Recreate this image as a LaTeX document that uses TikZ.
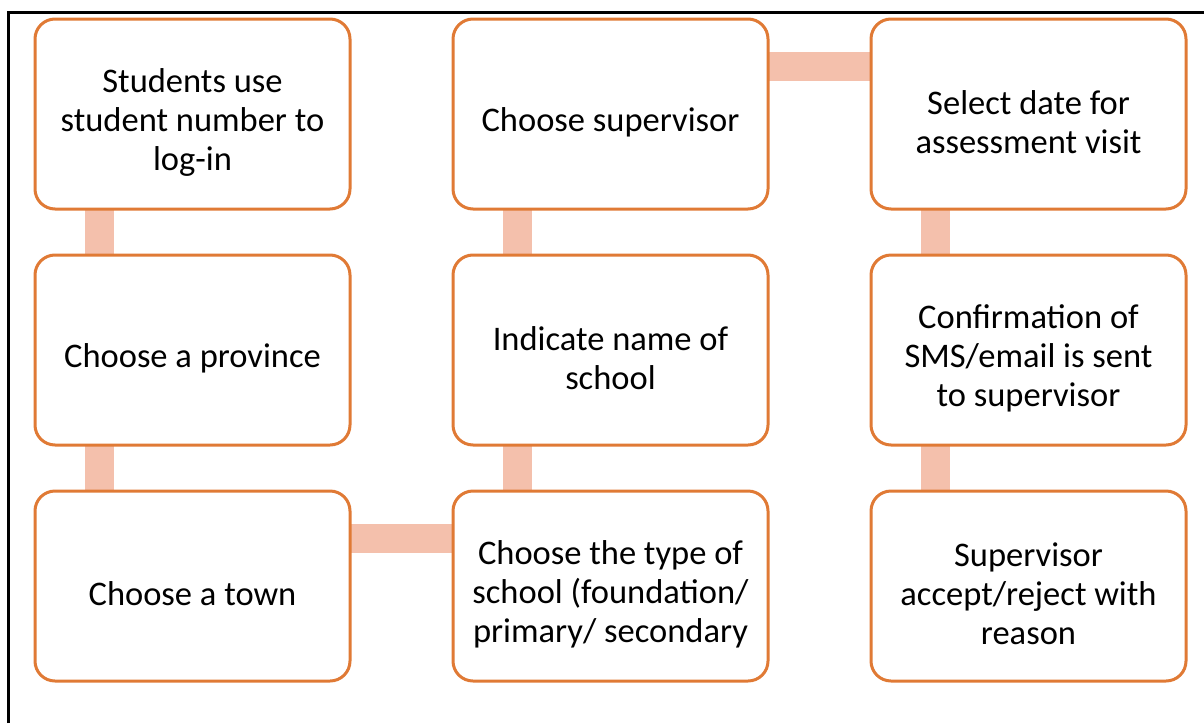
\documentclass[tikz,border=0pt]{standalone}
\usepackage{fontspec}
\setmainfont{Carlito}
\usetikzlibrary{positioning, backgrounds}
\definecolor{boxline}{HTML}{E07A35}
\definecolor{linkfill}{HTML}{F4C0AC}
\tikzset{
    steptext/.style={
        align=center,
        yshift=-8pt,
        font=\fontsize{34.5}{39}\selectfont
    },
    stepbox/.style={
        rectangle,
        rounded corners=20pt,
        draw=boxline,
        line width=3pt,
        fill=white,
        outer sep=0pt,
        minimum width=315pt,
        minimum height=190pt,
        label={[steptext]center:{#1}}
    },
    link/.style={draw=linkfill, line width=29pt},
    frame/.style={draw=black, line width=3pt},
}

\begin{document}
\begin{tikzpicture}[x=1pt, y=1pt, node distance=46pt and 103pt]

    \useasboundingbox (0,0) rectangle (1204,-723);

    % Frame
    \coordinate (fbl) at (8.5,-723);
    \coordinate (ftl) at (8.5,-12.5);
    \coordinate (ftr) at (1204,-12.5);
    \draw [frame] (fbl) -- (ftl) -- (ftr);

    % Nodes
    \node (b1) [stepbox={Students use\\student number to\\log-in}] at (192.5,-114) {};
    \node (b2) [stepbox={Choose a province}, below=of b1] {};
    \node (b3) [stepbox={Choose a town}, below=of b2] {};
    \node (b4) [stepbox={Choose the type of\\school (foundation/\\primary/ secondary}, right=of b3] {};
    \node (b5) [stepbox={Indicate name of\\school}, above=of b4] {};
    \node (b6) [stepbox={Choose supervisor}, above=of b5] {};
    \node (b7) [stepbox={Select date for\\assessment visit}, right=of b6] {};
    \node (b8) [stepbox={Confirmation of\\SMS/email is sent\\to supervisor}, below=of b7] {};
    \node (b9) [stepbox={Supervisor\\accept/reject with\\reason}, below=of b8] {};

    % Connectors
    \begin{scope}[on background layer]

        \draw [link] ([xshift=64pt]b1.south west) -- ([xshift=64pt]b2.north west);
        \draw [link] ([xshift=64pt]b2.south west) -- ([xshift=64pt]b3.north west);
        \draw [link] ([yshift=-47.5pt]b3.north east) -- ([yshift=-47.5pt]b4.north west);
        \draw [link] ([xshift=64pt]b4.north west) -- ([xshift=64pt]b5.south west);
        \draw [link] ([xshift=64pt]b5.north west) -- ([xshift=64pt]b6.south west);
        \draw [link] ([yshift=-47.5pt]b6.north east) -- ([yshift=-47.5pt]b7.north west);
        \draw [link] ([xshift=64pt]b7.south west) -- ([xshift=64pt]b8.north west);
        \draw [link] ([xshift=64pt]b8.south west) -- ([xshift=64pt]b9.north west);

    \end{scope}

\end{tikzpicture}
\end{document}
